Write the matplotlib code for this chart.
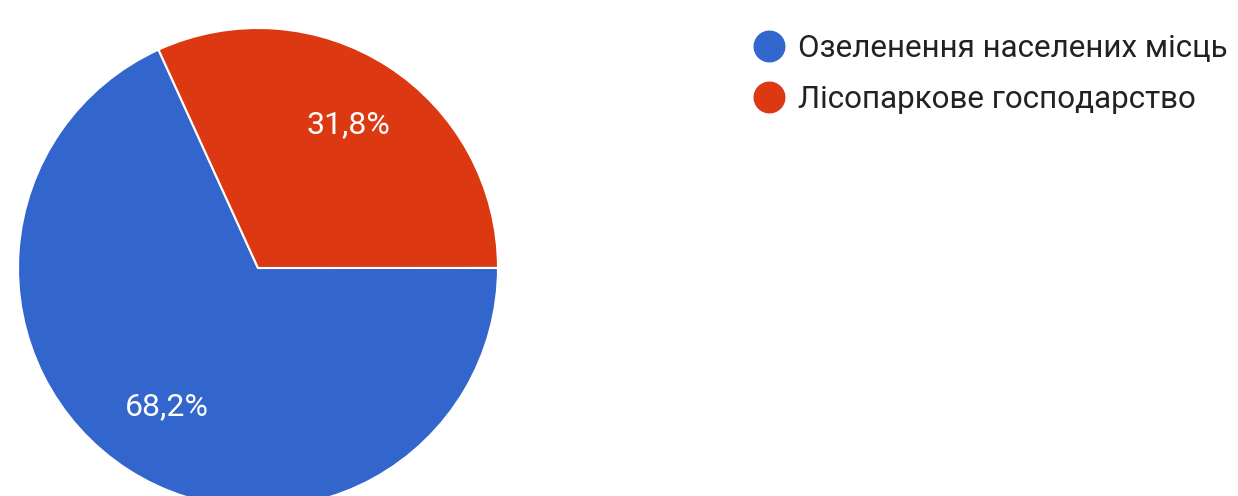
import numpy as np
import matplotlib.pyplot as plt
from matplotlib.lines import Line2D

labels = ['Озеленення населених місць', 'Лісопаркове господарство']
values = [68.2, 31.8]
pct_text = ['68,2%', '31,8%']
colors = ['#3366CC', '#DC3912']

plt.rcParams['font.family'] = ['Roboto', 'DejaVu Sans']

fig = plt.figure(figsize=(12.38, 4.96), dpi=100)

# pie: centre at (258, 268) px from top-left, radius 240 px
ax = fig.add_axes([(258 - 240) / 1238, (228 - 240) / 496, 480 / 1238, 480 / 496])
wedges, _ = ax.pie(values, colors=colors, startangle=114.5, counterclock=True,
                   radius=1, wedgeprops=dict(edgecolor='white', linewidth=1.5))
ax.set_xlim(-1, 1)
ax.set_ylim(-1, 1)
ax.set_aspect('equal')
ax.axis('off')

for w, t in zip(wedges, pct_text):
    mid = np.deg2rad((w.theta1 + w.theta2) / 2)
    ax.text(0.7 * np.cos(mid), 0.7 * np.sin(mid) + 0.01, t, color='white',
            fontsize=23, ha='center', va='center')

handles = [Line2D([0], [0], marker='o', linestyle='', markersize=22,
                  markerfacecolor=c, markeredgecolor=c) for c in colors]
fig.legend(handles, labels, loc='upper left', bbox_to_anchor=(738 / 1238, 1 - 18 / 496),
           frameon=False, fontsize=22.6, handlelength=1.0, handletextpad=0.4,
           labelspacing=0.7, borderpad=0, labelcolor='#222222')

fig.savefig('out.png', dpi=100)
